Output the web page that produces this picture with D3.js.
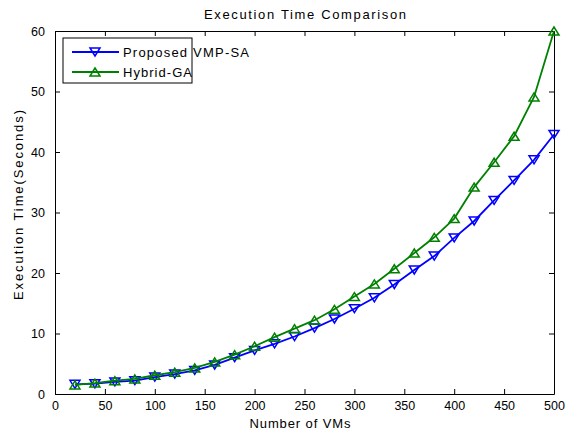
<!DOCTYPE html>
<html>
<head>
<meta charset="utf-8">
<script src="https://cdn.jsdelivr.net/npm/d3@7"></script>
<style>
  body { margin: 0; background: #fff; }
  text { font-family: "Liberation Sans", Arial, sans-serif; fill: #000; }
</style>
</head>
<body>
<div id="graph"></div>
<script>
'use strict';

// number of VMs
const vms = [20, 40, 60, 80, 100, 120, 140, 160, 180, 200, 220, 240, 260,
             280, 300, 320, 340, 360, 380, 400, 420, 440, 460, 480, 500];
// Proposed VMP-SA
const vmpSa = [1.6, 1.7, 2.0, 2.2, 2.8, 3.3, 3.9, 4.8, 6.0, 7.2, 8.3, 9.5, 10.9,
               12.4, 14.1, 15.9, 18.1, 20.5, 22.8, 25.8, 28.6, 32.0, 35.3, 38.7, 42.9];
// Hybrid-GA
const hybridGa = [1.5, 1.8, 2.2, 2.5, 3.1, 3.6, 4.3, 5.3, 6.5, 7.9, 9.4, 10.8, 12.2,
                  14.0, 16.1, 18.2, 20.7, 23.3, 25.9, 29.0, 34.2, 38.3, 42.6, 49.1, 60.0];

const xTicks = [0, 50, 100, 150, 200, 250, 300, 350, 400, 450, 500];
const yTicks = [0, 10, 20, 30, 40, 50, 60];

const series = [
  { name: 'Proposed VMP-SA', values: vmpSa, color: '#0000ff', down: true },
  { name: 'Hybrid-GA', values: hybridGa, color: '#008000', down: false },
];

const W = 566, H = 434;
const plot = { left: 55, right: 554, top: 31, bottom: 394 };

const svg = d3.select('#graph')
  .append('svg')
  .attr('width', W)
  .attr('height', H);

const xScale = d3.scaleLinear().domain([0, 500]).range([plot.left, plot.right]);
const yScale = d3.scaleLinear().domain([0, 60]).range([plot.bottom, plot.top]);

// axes box with inward ticks (matlab style)
svg.append('g')
  .attr('transform', `translate(0, ${plot.bottom})`)
  .call(d3.axisBottom(xScale).tickValues(xTicks).tickSizeInner(-5).tickSizeOuter(0).tickPadding(8))
  .call(g => g.selectAll('text').style('font-size', '12.5px').attr('dy', '0.6em'));
svg.append('g')
  .attr('transform', `translate(0, ${plot.top})`)
  .call(d3.axisTop(xScale).tickValues(xTicks).tickSizeInner(-5).tickSizeOuter(0).tickFormat(''));
svg.append('g')
  .attr('transform', `translate(${plot.left}, 0)`)
  .call(d3.axisLeft(yScale).tickValues(yTicks).tickSizeInner(-5).tickSizeOuter(0).tickPadding(10))
  .call(g => g.selectAll('text').style('font-size', '12.5px'));
svg.append('g')
  .attr('transform', `translate(${plot.right}, 0)`)
  .call(d3.axisRight(yScale).tickValues(yTicks).tickSizeInner(-5).tickSizeOuter(0).tickFormat(''));

svg.selectAll('.domain').attr('stroke', '#000').attr('stroke-width', 1);
svg.selectAll('.tick line').attr('stroke', '#000');

const triDown = d3.symbol().type({ draw(ctx, size) {
  const r = Math.sqrt(size) / 2;
  ctx.moveTo(-r, -r * 0.8); ctx.lineTo(r, -r * 0.8); ctx.lineTo(0, r * 0.8); ctx.closePath();
} }).size(100);
const triUp = d3.symbol().type({ draw(ctx, size) {
  const r = Math.sqrt(size) / 2;
  ctx.moveTo(-r, r * 0.8); ctx.lineTo(r, r * 0.8); ctx.lineTo(0, -r * 0.8); ctx.closePath();
} }).size(100);

const line = d3.line()
  .x((d, i) => xScale(vms[i]))
  .y(d => yScale(d));

series.forEach(s => {
  const g = svg.append('g');
  g.append('path')
    .datum(s.values)
    .attr('d', line)
    .attr('fill', 'none')
    .attr('stroke', s.color)
    .attr('stroke-width', 1.8);
  g.selectAll('path.mark')
    .data(s.values)
    .enter()
    .append('path')
    .attr('class', 'mark')
    .attr('d', s.down ? triDown : triUp)
    .attr('transform', (d, i) => `translate(${xScale(vms[i])}, ${yScale(d)})`)
    .attr('fill', 'none')
    .attr('stroke', s.color)
    .attr('stroke-width', 1.5);
});

// labels
svg.append('text')
  .attr('x', 305).attr('y', 19)
  .attr('text-anchor', 'middle')
  .attr('textLength', 202).attr('lengthAdjust', 'spacing')
  .style('font-size', '13px')
  .text('Execution Time Comparison');

svg.append('text')
  .attr('x', 300).attr('y', 428)
  .attr('text-anchor', 'middle')
  .attr('textLength', 101).attr('lengthAdjust', 'spacing')
  .style('font-size', '13px')
  .text('Number of VMs');

svg.append('text')
  .attr('transform', 'translate(23, 205)rotate(-90)')
  .attr('text-anchor', 'middle')
  .attr('textLength', 190).attr('lengthAdjust', 'spacing')
  .style('font-size', '13px')
  .text('Execution Time(Seconds)');

// legend
const legend = svg.append('g').attr('transform', 'translate(63, 38)');
legend.append('rect')
  .attr('width', 129).attr('height', 45)
  .attr('fill', '#fff').attr('stroke', '#000').attr('stroke-width', 1);

const legendLen = [126, 69];
series.forEach((s, i) => {
  const y = 14 + i * 20;
  legend.append('line')
    .attr('x1', 9).attr('x2', 56).attr('y1', y).attr('y2', y)
    .attr('stroke', s.color).attr('stroke-width', 1.8);
  legend.append('path')
    .attr('d', s.down ? triDown : triUp)
    .attr('transform', `translate(32, ${y})`)
    .attr('fill', 'none').attr('stroke', s.color).attr('stroke-width', 1.5);
  legend.append('text')
    .attr('x', 60).attr('y', y + 5)
    .attr('textLength', legendLen[i]).attr('lengthAdjust', 'spacing')
    .style('font-size', '13px')
    .text(s.name);
});
</script>
</body>
</html>
